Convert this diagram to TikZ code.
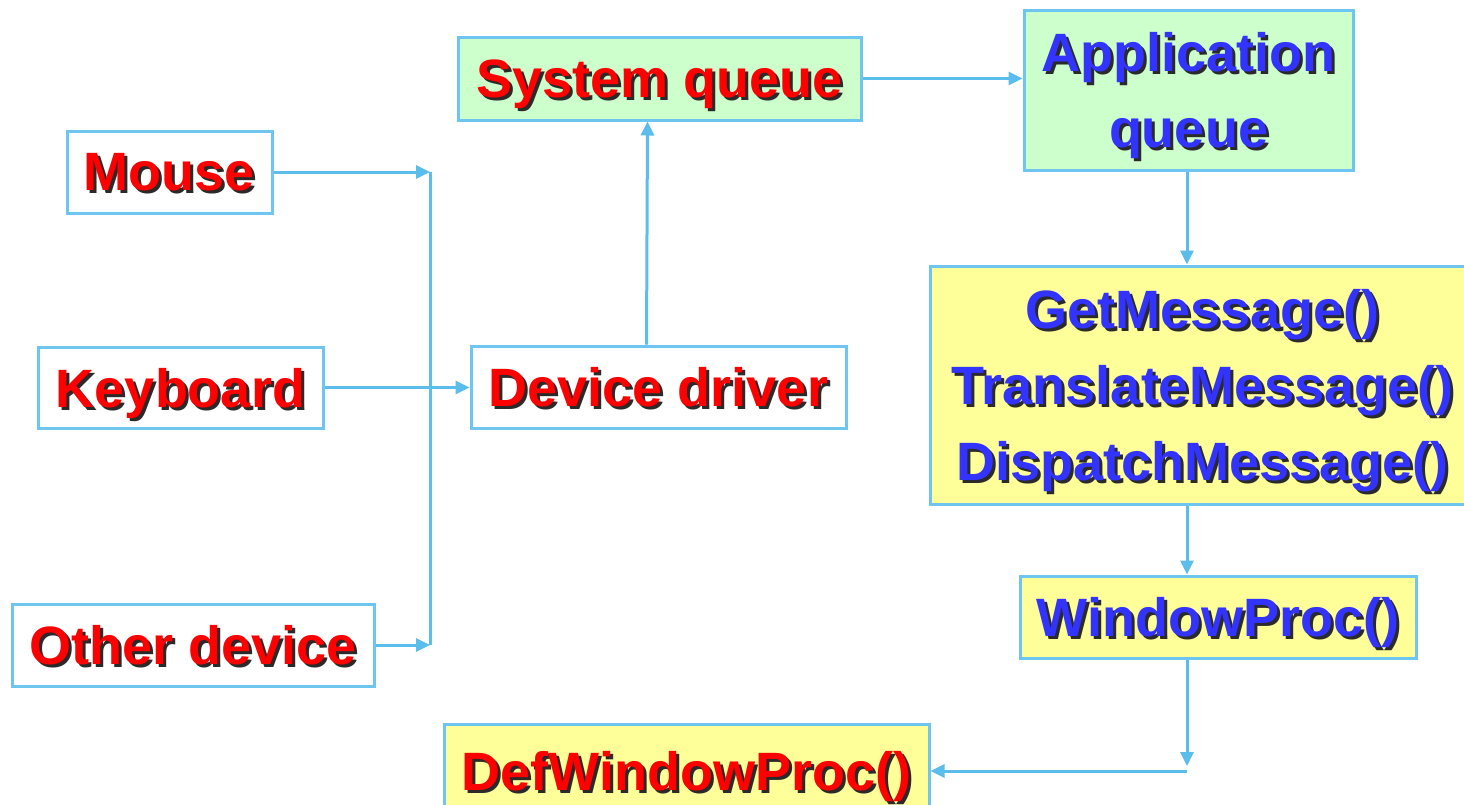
\documentclass[tikz,border=0pt]{standalone}
\usepackage{fontspec}
\setmainfont{Liberation Sans}
\usetikzlibrary{arrows.meta,calc}
\definecolor{bord}{HTML}{6EC6F0}
\definecolor{arrc}{HTML}{5BBDEB}
\definecolor{gfill}{HTML}{CCFFCC}
\definecolor{yfill}{HTML}{FFFF99}
\definecolor{redt}{HTML}{FF0000}
\definecolor{bluet}{HTML}{3333FF}
\definecolor{shadowcol}{HTML}{2A2A2A}
\newcommand\shd[1]{\leavevmode\rlap{\kern3pt\raisebox{-3pt}{\textcolor{shadowcol}{#1}}}#1}
\tikzset{
  box/.style={draw=bord, line width=3pt, inner sep=0pt, align=center, text depth=0pt,
    font=\fontsize{54}{76}\selectfont\bfseries},
  rbox/.style={box, text=redt, fill=white},
  gbox/.style={box, fill=gfill},
  ybox/.style={box, fill=yfill},
  arr/.style={draw=arrc, line width=3pt, -{Triangle[length=14pt,width=13pt]}},
  ln/.style={draw=arrc, line width=3pt}
}
\begin{document}
\begin{tikzpicture}[x=1pt,y=-1pt]
\useasboundingbox[fill=white] (0,0) rectangle (1464,804);
\node[rbox, minimum width=205pt, minimum height=82pt] (mouse) at (169.5,172) {\shd{Mouse}};
\node[rbox, minimum width=285pt, minimum height=81pt] (kbd) at (180.5,387.5) {\shd{Keyboard}};
\node[rbox, minimum width=362pt, minimum height=82pt] (other) at (193,645) {\shd{Other device}};
\node[rbox, minimum width=375pt, minimum height=82pt] (dd) at (658.5,387) {\shd{Device driver}};
\node[gbox, text=redt, minimum width=403pt, minimum height=83pt] (sq) at (659.5,78.5) {\shd{System queue}};
\node[gbox, text=bluet, minimum width=329pt, minimum height=160pt] (aq) at (1188.5,90) {\shd{Application}\\\shd{queue}};
\node[ybox, text=bluet, minimum width=545pt, minimum height=238pt] (gm) at (1202.5,385) {\shd{GetMessage()}\\\shd{TranslateMessage()}\\\shd{DispatchMessage()}};
\node[ybox, text=bluet, minimum width=396pt, minimum height=82pt] (wp) at (1218,617) {\shd{WindowProc()}};
\node[ybox, text=redt, minimum width=485pt, minimum height=94pt] (dw) at (686.5,771) {\shd{DefWindowProc()}};
\coordinate (jt) at (430,172);
\coordinate (jb) at (430,645);
\coordinate (c1) at (1187,766);
\coordinate (c2) at (1187,771);
\draw[arr] (mouse.east) -- (jt);
\draw[arr] (other.east) -- (jb);
\draw[ln] (jt) -- (jb);
\draw[arr] (kbd.east) -- (kbd.east -| dd.west);
\draw[arr] ([xshift=-12pt]dd.north) -- ([xshift=-12pt]sq.south);
\draw[arr] (sq.east) -- (sq.east -| aq.west);
\draw[arr] ([xshift=-1.5pt]aq.south) -- ([xshift=-1.5pt]aq.south |- gm.north);
\draw[arr] (c1 |- gm.south) -- (c1 |- wp.north);
\draw[arr] (c1 |- wp.south) -- (c1);
\draw[arr] (c2) -- (c2 -| dw.east);
\end{tikzpicture}
\end{document}
